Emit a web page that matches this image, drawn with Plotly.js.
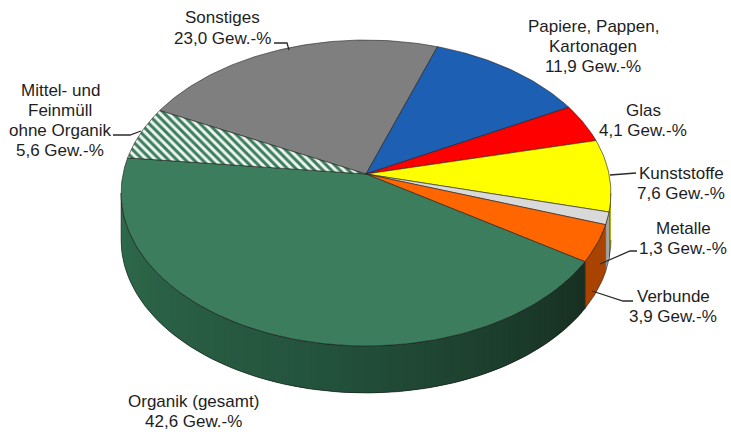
<!DOCTYPE html>
<html><head><meta charset="utf-8">
<script src="https://cdn.plot.ly/plotly-3.0.1.min.js"></script>
<style>html,body{margin:0;padding:0;background:#fff}</style>
</head><body><div id="chart" style="width:731px;height:432px"></div>
<script>
// ---- data ----
const categories = ["Sonstiges", "Papiere, Pappen, Kartonagen", "Glas", "Kunststoffe", "Metalle", "Verbunde", "Organik (gesamt)", "Mittel- und Feinmüll ohne Organik"];
const values = [23.0, 11.9, 4.1, 7.6, 1.3, 3.9, 42.6, 5.6];
const nameLines = [["Sonstiges"], ["Papiere, Pappen,", "Kartonagen"], ["Glas"], ["Kunststoffe"], ["Metalle"], ["Verbunde"], ["Organik (gesamt)"], ["Mittel- und", "Feinmüll", "ohne Organik"]];
const unit = " Gew.-%";

// ---- styles / layout ----
const topColors = ["#7f7f7f", "#1d5fb3", "#ff0000", "#ffff00", "#d9d9d9", "#ff6600", "#3b7d5c", null];
const sideColors = ["#5a5a5a", "#123f7a", "#a00000", "#a8a800", "#a3a3a3", "#a84400", null, "#2d6748"];
const hatch = {shape: "\\", bgcolor: "#eef5f0", fgcolor: "#3b7d5c", size: 6, solidity: 0.5};
const geo = {cx: 366, cy: 174, a: 243, b: 150.6, k: 0.1242, depth: 47, start: -63.6};
const labelPos = [[222, 17.5, 21], [593, 26, 20], [643, 110, 20], [681, 173, 20], [683, 228, 20], [673, 296, 20], [193, 401, 20], [60, 90, 20]];
const leaders = [
  "M274,43 L287,43 L289,50",
  "M113,135 L130,135 L141,131",
  "M610,175 L636,173",
  "M600,264 L630,251 L637,251",
  "M592,291 L623,301 L633,301"
];

function proj(deg, dy) {
  const t = deg * Math.PI / 180;
  const x = Math.sin(t), z = Math.cos(t);
  const w = 1 + geo.k * z;
  return [geo.cx + geo.a * x / w, geo.cy - geo.b * z / w + (dy || 0)];
}
function arc(d1, d2, dy) {
  const n = Math.max(2, Math.ceil(Math.abs(d2 - d1) / 1));
  const pts = [];
  for (let i = 0; i <= n; i++) pts.push(proj(d1 + (d2 - d1) * i / n, dy));
  return pts;
}
function hex(c) { return [parseInt(c.slice(1,3),16), parseInt(c.slice(3,5),16), parseInt(c.slice(5,7),16)]; }
function lerpC(c1, c2, t) {
  const a = hex(c1), b = hex(c2);
  return "rgb(" + a.map((v, i) => Math.round(v + (b[i] - v) * t)).join(",") + ")";
}

const total = values.reduce((s, v) => s + v, 0);
const bounds = [];
let acc = geo.start;
values.forEach(v => { const d = v / total * 360; bounds.push([acc, acc + d]); acc += d; });

const vis1 = Math.acos(-geo.k) * 180 / Math.PI;   // right extreme
const vis2 = 360 - vis1;                         // left extreme

const traces = [];
function poly(pts, fillcolor, line, extra) {
  const t = Object.assign({
    type: "scatter", mode: "lines", x: pts.map(p => p[0]), y: pts.map(p => p[1]),
    fill: "toself", fillcolor: fillcolor, line: line || {width: 0}, hoverinfo: "skip", showlegend: false
  }, extra || {});
  traces.push(t);
}
function norm(d) { return ((d % 360) + 360) % 360; }

// sides
bounds.forEach((bd, i) => {
  let s = norm(bd[0]), e = s + (bd[1] - bd[0]);
  const lo = Math.max(s, vis1), hi = Math.min(e, vis2);
  if (hi <= lo) return;
  if (sideColors[i]) {
    const pts = arc(lo, hi, 0).concat(arc(hi, lo, geo.depth));
    poly(pts, sideColors[i], {width: 0.8, color: "rgba(20,20,20,0.7)"});
  } else {
    // gradient side
    const step = 1.5;
    for (let d = lo; d < hi; d += step) {
      const d2 = Math.min(hi, d + step + 1.5);
      const t = Math.max(0, Math.min(1, ((d + d + step) / 2 - lo) / (hi - lo)));
      const col = t < 0.5 ? lerpC("#172f21", "#24543d", t / 0.5) : lerpC("#24543d", "#2f6b4c", (t - 0.5) / 0.5);
      const pts = arc(d, d2, 0).concat(arc(d2, d, geo.depth));
      poly(pts, col, {width: 0});
    }
    const pts = arc(lo, hi, 0).concat(arc(hi, lo, geo.depth));
    pts.push(pts[0]);
    traces.push({type: "scatter", mode: "lines", x: pts.map(p => p[0]), y: pts.map(p => p[1]),
      line: {width: 0.8, color: "rgba(20,20,20,0.7)"}, hoverinfo: "skip", showlegend: false});
  }
});

// tops
bounds.forEach((bd, i) => {
  const pts = [[geo.cx, geo.cy]].concat(arc(bd[0], bd[1], 0));
  pts.push([geo.cx, geo.cy]);
  const extra = topColors[i] ? {} : {fillpattern: hatch};
  poly(pts, topColors[i] || "#ffffff", {width: 0.8, color: "rgba(30,30,30,0.75)"}, extra);
});

// labels
const annotations = [];
values.forEach((v, i) => {
  const lines = nameLines[i].concat([v.toFixed(1).replace(".", ",") + unit]);
  const [x, y0, sp] = labelPos[i];
  lines.forEach((ln, j) => {
    annotations.push({x: x, y: y0 + j * sp, xref: "x", yref: "y", text: ln, showarrow: false,
      xanchor: "center", yanchor: "middle",
      font: {family: "Liberation Sans, Arial, sans-serif", size: 17, color: "#1e1e1e"}});
  });
});
const shapes = leaders.map(p => ({type: "path", path: p, xref: "x", yref: "y", line: {color: "#2a2a2a", width: 1.3}}));

Plotly.newPlot("chart", traces, {
  width: 731, height: 432, margin: {l: 0, r: 0, t: 0, b: 0},
  paper_bgcolor: "#ffffff", plot_bgcolor: "#ffffff", showlegend: false, hovermode: false,
  xaxis: {range: [0, 731], visible: false, fixedrange: true},
  yaxis: {range: [432, 0], visible: false, fixedrange: true},
  annotations: annotations, shapes: shapes
}, {staticPlot: true, displayModeBar: false});
</script></body></html>
